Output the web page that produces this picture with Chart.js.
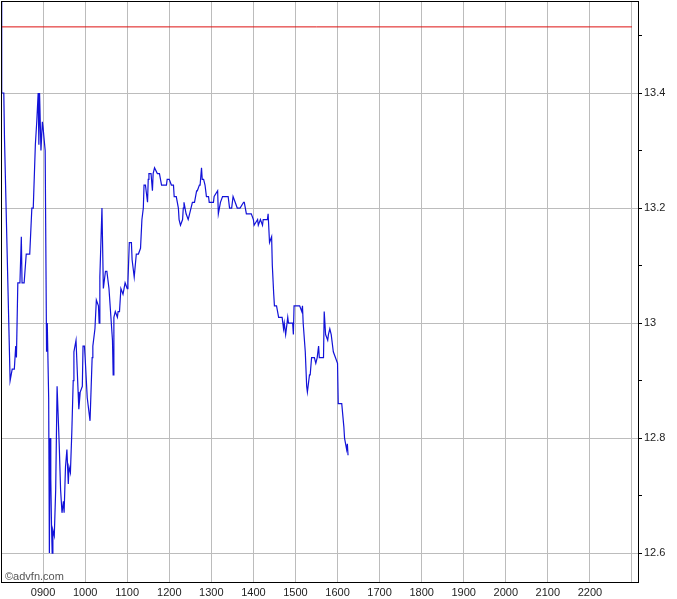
<!DOCTYPE html>
<html>
<head>
<meta charset="utf-8">
<script src="https://cdn.jsdelivr.net/npm/chart.js@4/dist/chart.umd.min.js"></script>
<style>
  html, body { margin: 0; padding: 0; background: #fff; }
  #wrap { width: 677px; height: 599px; }
</style>
</head>
<body>
<div id="wrap"><canvas id="priceChart" width="677" height="599"></canvas></div>
<script>
// intraday trades (time of day, price)
const times = [
  '08:00','08:01','08:04','08:05','08:13','08:16','08:19','08:21','08:22','08:24',
  '08:27','08:29','08:30','08:33','08:36','08:41','08:44','08:46','08:49','08:51',
  '08:53','08:54','08:55','08:57','08:59','09:00','09:03','09:05','09:06','09:08',
  '09:09','09:10','09:11','09:12','09:13','09:14','09:16','09:18','09:20','09:23',
  '09:25','09:27','09:29','09:30','09:32','09:34','09:36','09:37','09:39','09:41',
  '09:43','09:44','09:47','09:50','09:51','09:53','09:56','09:57','09:59','10:00',
  '10:03','10:04','10:07','10:10','10:11','10:14','10:16','10:19','10:20','10:21',
  '10:24','10:26','10:29','10:31','10:34','10:39','10:40','10:41','10:43','10:46',
  '10:47','10:49','10:51','10:54','10:57','11:00','11:01','11:03','11:06','11:07',
  '11:09','11:10','11:13','11:16','11:19','11:21','11:23','11:24','11:26','11:29',
  '11:30','11:31','11:34','11:36','11:37','11:39','11:43','11:46','11:49','11:51',
  '11:53','11:56','11:57','12:00','12:03','12:06','12:07','12:10','12:13','12:14',
  '12:16','12:19','12:20','12:21','12:24','12:27','12:29','12:31','12:33','12:36',
  '12:39','12:40','12:43','12:44','12:46','12:47','12:49','12:51','12:53','12:56',
  '12:57','13:00','13:03','13:04','13:09','13:10','13:13','13:16','13:17','13:21',
  '13:24','13:26','13:29','13:31','13:34','13:37','13:41','13:46','13:47','13:50',
  '13:53','13:57','14:00','14:01','14:06','14:07','14:10','14:13','14:14','14:17',
  '14:20','14:21','14:23','14:26','14:27','14:29','14:30','14:33','14:36','14:37',
  '14:40','14:41','14:43','14:44','14:46','14:49','14:50','14:51','14:56','14:57',
  '14:58','15:03','15:06','15:09','15:10','15:11','15:14','15:16','15:17','15:20',
  '15:21','15:23','15:26','15:27','15:29','15:31','15:33','15:34','15:40','15:41',
  '15:43','15:46','15:47','15:49','15:51','15:54','15:57','16:00','16:01','16:06',
  '16:09','16:10','16:13','16:14','16:15'
];
const prices = [
  13.56,13.40,13.40,13.32,12.90,12.92,12.92,12.96,12.94,13.07,
  13.07,13.15,13.07,13.07,13.12,13.12,13.20,13.20,13.31,13.35,
  13.40,13.31,13.40,13.30,13.35,13.34,13.30,12.95,13.00,12.87,
  12.60,12.80,12.73,12.65,12.60,12.64,12.63,12.71,12.89,12.79,
  12.71,12.67,12.69,12.67,12.75,12.78,12.72,12.75,12.74,12.81,
  12.90,12.95,12.97,12.88,12.85,12.88,12.89,12.96,12.96,12.94,
  12.87,12.87,12.83,12.94,12.96,12.99,13.04,13.03,13.00,13.08,
  13.20,13.06,13.09,13.09,13.06,12.97,12.91,13.01,13.02,13.01,
  13.02,13.02,13.06,13.05,13.07,13.06,13.07,13.14,13.14,13.11,
  13.09,13.08,13.12,13.12,13.13,13.18,13.20,13.24,13.24,13.21,
  13.25,13.26,13.26,13.23,13.26,13.27,13.26,13.26,13.24,13.24,
  13.24,13.24,13.25,13.25,13.24,13.24,13.22,13.22,13.20,13.18,
  13.17,13.18,13.20,13.21,13.19,13.18,13.19,13.20,13.21,13.21,
  13.23,13.23,13.24,13.24,13.27,13.25,13.25,13.24,13.22,13.22,
  13.21,13.21,13.21,13.22,13.23,13.19,13.21,13.22,13.22,13.22,
  13.22,13.20,13.20,13.22,13.21,13.20,13.20,13.21,13.21,13.19,
  13.19,13.19,13.18,13.17,13.18,13.17,13.18,13.17,13.18,13.18,
  13.18,13.19,13.14,13.15,13.10,13.05,13.03,13.03,13.01,13.01,
  13.01,13.01,12.99,13.00,12.98,13.01,13.00,13.00,13.00,12.98,
  13.03,13.03,13.03,13.02,13.03,13.00,12.95,12.89,12.88,12.91,
  12.91,12.94,12.94,12.94,12.93,12.94,12.96,12.94,12.94,13.02,
  12.98,12.97,12.98,12.99,12.98,12.95,12.94,12.93,12.86,12.86,
  12.82,12.80,12.78,12.79,12.77
];
const prevClose = 13.515;
const hourTicks = ['0900','1000','1100','1200','1300','1400','1500','1600','1700','1800','1900','2000','2100','2200'];

function toMin(t) {
  const p = t.split(':');
  return parseInt(p[0]) * 60 + parseInt(p[1]);
}

const pricePoints = times.map((t, i) => ({ x: toMin(t), y: prices[i] }));
const closePoints = [{ x: 480, y: prevClose }, { x: 1380, y: prevClose }];

// frame round the plot + watermark
const framePlugin = {
  id: 'frame',
  afterDraw(chart) {
    const a = chart.chartArea;
    const ctx = chart.ctx;
    ctx.save();
    ctx.strokeStyle = '#000';
    ctx.lineWidth = 1;
    ctx.strokeRect(a.left + 0.5, a.top + 0.5, a.right - a.left - 1, a.bottom - a.top - 1);
    ctx.fillStyle = '#555';
    ctx.font = '11px "Liberation Sans", Arial, sans-serif';
    ctx.textBaseline = 'alphabetic';
    ctx.fillText('\u00A9advfn.com', 5, 580);
    ctx.restore();
  }
};

new Chart(document.getElementById('priceChart'), {
  type: 'line',
  data: {
    datasets: [
      {
        data: closePoints,
        borderColor: '#dd1111',
        borderWidth: 1,
        pointRadius: 0
      },
      {
        data: pricePoints,
        borderColor: '#1212d8',
        borderWidth: 1.2,
        pointRadius: 0,
        tension: 0
      }
    ]
  },
  options: {
    responsive: false,
    animation: false,
    layout: { padding: { left: 1, top: 1, right: 0, bottom: 0 } },
    plugins: {
      legend: { display: false },
      tooltip: { enabled: false }
    },
    scales: {
      x: {
        type: 'linear',
        min: 480,
        max: 1390,
        grid: { color: '#bcbcbc', drawTicks: false },
        border: { display: false },
        ticks: {
          stepSize: 60,
          includeBounds: false,
          autoSkip: false,
          maxRotation: 0,
          padding: 3,
          color: '#222',
          font: { family: '"Liberation Sans", Arial, sans-serif', size: 11 },
          callback: function(v) {
            const h = Math.round(v / 60);
            const lbl = (h < 10 ? '0' : '') + h + '00';
            return hourTicks.includes(lbl) ? lbl : '';
          }
        },
        afterFit: function(s) {
          s.height = 16;
          s.paddingLeft = 0;
          s.paddingRight = 0;
        }
      },
      y: {
        position: 'right',
        min: 12.548,
        max: 13.56,
        grid: {
          color: function(c) {
            return Math.round(c.tick.value * 10) % 2 === 0 ? '#bcbcbc' : 'rgba(0,0,0,0)';
          },
          tickColor: '#000',
          tickLength: 3
        },
        border: { display: false },
        ticks: {
          stepSize: 0.1,
          includeBounds: false,
          autoSkip: false,
          padding: 2,
          color: '#222',
          font: { family: '"Liberation Sans", Arial, sans-serif', size: 11 },
          callback: function(v) {
            const k = Math.round(v * 10);
            return k % 2 === 0 ? String(k / 10) : '';
          }
        },
        afterFit: function(s) {
          s.width = 38;
          s.paddingTop = 0;
          s.paddingBottom = 0;
        }
      }
    }
  },
  plugins: [framePlugin]
});
</script>
</body>
</html>
